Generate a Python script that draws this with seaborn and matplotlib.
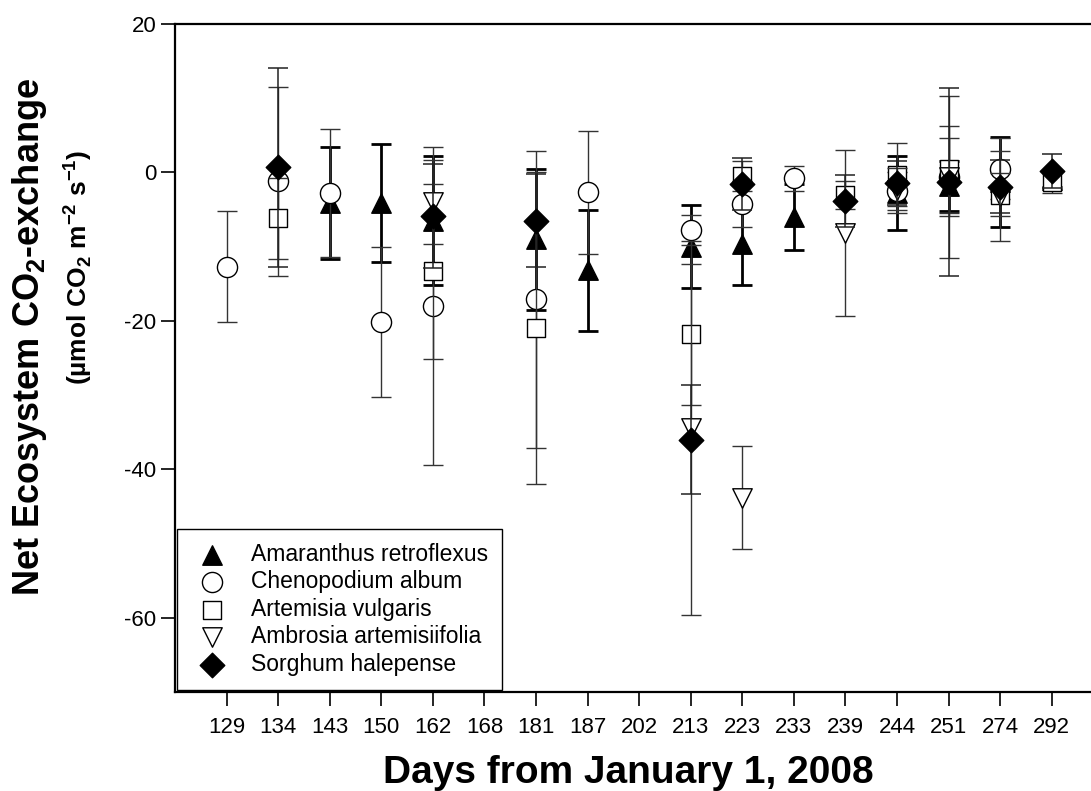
import numpy as np
import pandas as pd
import matplotlib
matplotlib.use('Agg')
import matplotlib.pyplot as plt
import seaborn as sns

# sampling days (categorical x axis)
days = [129, 134, 143, 150, 162, 168, 181, 187, 202, 213, 223, 233, 239, 244, 251, 274, 292]

# mean NEE and error per species (None = no measurement that day)
amaranthus = [None, None, -4.1, -4.1, -6.5, None, -9.0, -13.2, None, -10.0, -9.7, -6.0, None, -2.8, -1.8, -1.3, -1.0]
amaranthus_err = [None, None, 7.5, 7.9, 8.7, None, 9.5, 8.1, None, 5.6, 5.5, 4.5, None, 5.0, 3.4, 6.1, 1.0]
chenopodium = [-12.7, -1.2, -2.8, -20.1, -18.0, None, -17.1, -2.7, None, -7.8, -4.2, -0.8, None, -2.5, -0.6, 0.5, None]
chenopodium_err = [7.5, 12.7, 8.6, 10.1, 21.4, None, 20.0, 8.3, None, 2.0, 3.1, 1.7, None, 2.5, 10.9, 4.1, None]
artemisia = [None, -6.2, None, None, -13.3, None, -21.0, None, None, -21.8, -0.5, None, -3.0, -0.3, 0.4, -3.0, -1.3]
artemisia_err = [None, 5.5, None, None, 11.8, None, 21.0, None, None, 9.5, 2.0, None, 1.9, 4.2, 5.8, 2.9, 1.5]
ambrosia = [None, None, None, None, -4.0, None, None, None, None, -34.4, -43.8, None, -8.2, -2.4, -0.6, -3.2, None]
ambrosia_err = [None, None, None, None, 5.7, None, None, None, None, 25.2, 7.0, None, 11.2, 3.0, 5.3, 6.1, None]
sorghum = [None, 0.7, None, None, -5.9, None, -6.5, None, None, -36.0, -1.6, None, -3.8, -1.4, -1.3, -1.9, 0.2]
sorghum_err = [None, 13.4, None, None, 7.0, None, 6.3, None, None, 7.3, 3.5, None, 3.5, 3.0, 12.7, 3.6, 2.3]

species = ['Amaranthus retroflexus', 'Chenopodium album', 'Artemisia vulgaris',
           'Ambrosia artemisiifolia', 'Sorghum halepense']
means = [amaranthus, chenopodium, artemisia, ambrosia, sorghum]
errs = [amaranthus_err, chenopodium_err, artemisia_err, ambrosia_err, sorghum_err]

# long table
rows = []
for name, m, e in zip(species, means, errs):
    for i, d in enumerate(days):
        if m[i] is not None:
            rows.append({'species': name, 'day': d, 'pos': i, 'nee': m[i], 'err': e[i]})
df = pd.DataFrame(rows)

markers = ['^', 'o', 's', 'v', 'D']
faces = ['black', 'white', 'white', 'white', 'black']
msizes = [14, 14.5, 12.5, 14, 12.5]
elw = [2.0, 1.0, 1.0, 1.0, 1.1]
ecol = ['black', '#333333', '#333333', '#333333', '#222222']

sns.set_style('ticks')
plt.rcParams['font.family'] = ['Liberation Sans', 'DejaVu Sans']
plt.rcParams['mathtext.fontset'] = 'custom'
plt.rcParams['mathtext.rm'] = 'Liberation Sans'
plt.rcParams['mathtext.bf'] = 'Liberation Sans:bold'
plt.rcParams['axes.unicode_minus'] = False
plt.rcParams['text.color'] = 'black'
plt.rcParams['xtick.color'] = 'black'
plt.rcParams['ytick.color'] = 'black'
plt.rcParams['xtick.labelcolor'] = 'black'
plt.rcParams['ytick.labelcolor'] = 'black'

fig = plt.figure(figsize=(10.91, 7.91), dpi=100)
ax = fig.add_axes([175 / 1091, 1 - 692 / 791, 918 / 1091, 668 / 791])

for k, name in enumerate(species):
    sub = df[df['species'] == name]
    ax.errorbar(sub['pos'], sub['nee'], yerr=sub['err'], fmt='none',
                ecolor=ecol[k], elinewidth=elw[k], capsize=7.2, capthick=elw[k],
                zorder=2 + 2 * k)
    sns.scatterplot(data=sub, x='pos', y='nee', marker=markers[k], s=msizes[k] ** 2,
                    color=faces[k], edgecolor='black', linewidth=1.0,
                    label=name, ax=ax, zorder=3 + 2 * k)

ax.set_xlim(-1.0, 16.8)
ax.set_ylim(-70, 20)
ax.set_yticks([-60, -40, -20, 0, 20])
ax.set_xticks(range(len(days)))
ax.set_xticklabels([str(d) for d in days])
ax.set_xlabel('')
ax.set_ylabel('')
ax.tick_params(axis='both', labelsize=16, direction='out', length=10, width=1.2,
               color='black', labelcolor='black')
ax.tick_params(axis='x', pad=8)
for sp in ax.spines.values():
    sp.set_linewidth(1.6)
    sp.set_color('black')
    sp.set_visible(True)

leg = ax.legend(loc='lower left', fontsize=16.5, frameon=True, fancybox=False,
                edgecolor='black', framealpha=1, borderpad=0.6, labelspacing=0.2,
                handletextpad=0.82, borderaxespad=0.1, handlelength=1.8)
leg.get_frame().set_linewidth(1.0)
for t in leg.get_texts():
    t.set_color('black')

fig.text(628 / 1091, 1 - 773 / 791, 'Days from January 1, 2008', ha='center', va='center',
         fontsize=28, fontweight='bold', color='black')
fig.text(30 / 1091, 1 - 337 / 791, r'Net Ecosystem CO$_\mathbf{2}$-exchange', ha='center',
         va='center', rotation=90, fontsize=26, fontweight='bold', color='black')
fig.text(78 / 1091, 1 - 267 / 791, r'(µmol CO$_\mathbf{2}$ m$^\mathbf{-2}$ s$^\mathbf{-1}$)',
         ha='center', va='center', rotation=90, fontsize=19, fontweight='bold', color='black')

fig.savefig('out.png', dpi=100)
